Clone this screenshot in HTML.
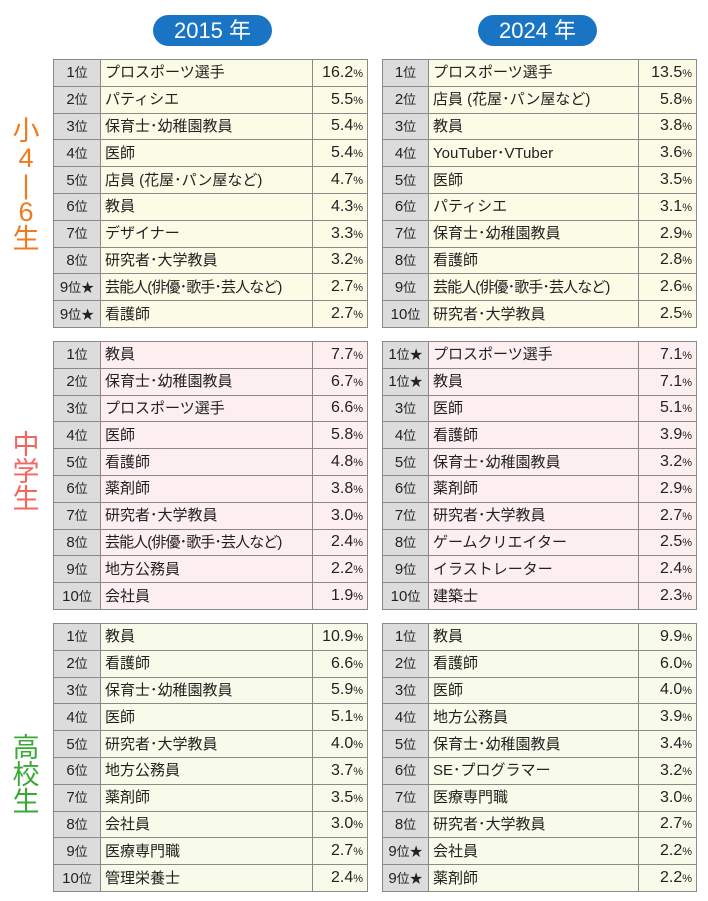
<!DOCTYPE html>
<html><head><meta charset="utf-8"><style>
body{margin:0;width:708px;height:901px;background:#fff;position:relative;font-family:"Liberation Sans","Noto Sans CJK JP",sans-serif;overflow:hidden}
.pill{position:absolute;top:15px;height:31px;width:119px;border-radius:16px;background:#1a74c4;color:#fff;font-size:22px;line-height:31px;text-align:center}
table{position:absolute;border-collapse:collapse;table-layout:fixed;font-size:15px;color:#222}
td{border:1px solid #8a8a8a;height:24.8px;line-height:20px;padding:1px 0 0 0;white-space:nowrap;overflow:hidden;vertical-align:middle}
td.r{background:#dcdcdc;text-align:center;font-size:15px}
td.r small{font-size:13px}
td.n{padding-left:4px}
td.n.t{letter-spacing:-0.9px}
td.p{text-align:right;padding-right:4px;font-size:16px}
td.p small{font-size:11px}
.s1 td.n,.s1 td.p{background:#fcfbe6}
.s2 td.n,.s2 td.p{background:#fdeef0}
.s3 td.n,.s3 td.p{background:#f9fbea}
.side{position:absolute;left:8px;width:36px;text-align:center;font-size:27px;line-height:27px}
</style></head><body>
<div class="pill" style="left:153px">2015 年</div>
<div class="pill" style="left:478px">2024 年</div>
<div class="side" style="top:118px;color:#f07a1c">小<br>4<br>|<br>6<br>生</div>
<div class="side" style="top:432px;color:#f2665f">中<br>学<br>生</div>
<div class="side" style="top:735px;color:#3aaa35">高<br>校<br>生</div>

<table class="s1" style="left:53px;top:59px;width:314px"><colgroup><col style="width:47px"><col style="width:212px"><col style="width:55px"></colgroup>
<tr><td class="r">1<small>位</small></td><td class="n">プロスポーツ選手</td><td class="p">16.2<small>%</small></td></tr>
<tr><td class="r">2<small>位</small></td><td class="n">パティシエ</td><td class="p">5.5<small>%</small></td></tr>
<tr><td class="r">3<small>位</small></td><td class="n">保育士･幼稚園教員</td><td class="p">5.4<small>%</small></td></tr>
<tr><td class="r">4<small>位</small></td><td class="n">医師</td><td class="p">5.4<small>%</small></td></tr>
<tr><td class="r">5<small>位</small></td><td class="n">店員 (花屋･パン屋など)</td><td class="p">4.7<small>%</small></td></tr>
<tr><td class="r">6<small>位</small></td><td class="n">教員</td><td class="p">4.3<small>%</small></td></tr>
<tr><td class="r">7<small>位</small></td><td class="n">デザイナー</td><td class="p">3.3<small>%</small></td></tr>
<tr><td class="r">8<small>位</small></td><td class="n">研究者･大学教員</td><td class="p">3.2<small>%</small></td></tr>
<tr><td class="r">9<small>位★</small></td><td class="n t">芸能人(俳優･歌手･芸人など)</td><td class="p">2.7<small>%</small></td></tr>
<tr><td class="r">9<small>位★</small></td><td class="n">看護師</td><td class="p">2.7<small>%</small></td></tr>
</table>
<table class="s1" style="left:382px;top:59px;width:314px"><colgroup><col style="width:46px"><col style="width:210px"><col style="width:58px"></colgroup>
<tr><td class="r">1<small>位</small></td><td class="n">プロスポーツ選手</td><td class="p">13.5<small>%</small></td></tr>
<tr><td class="r">2<small>位</small></td><td class="n">店員 (花屋･パン屋など)</td><td class="p">5.8<small>%</small></td></tr>
<tr><td class="r">3<small>位</small></td><td class="n">教員</td><td class="p">3.8<small>%</small></td></tr>
<tr><td class="r">4<small>位</small></td><td class="n">YouTuber･VTuber</td><td class="p">3.6<small>%</small></td></tr>
<tr><td class="r">5<small>位</small></td><td class="n">医師</td><td class="p">3.5<small>%</small></td></tr>
<tr><td class="r">6<small>位</small></td><td class="n">パティシエ</td><td class="p">3.1<small>%</small></td></tr>
<tr><td class="r">7<small>位</small></td><td class="n">保育士･幼稚園教員</td><td class="p">2.9<small>%</small></td></tr>
<tr><td class="r">8<small>位</small></td><td class="n">看護師</td><td class="p">2.8<small>%</small></td></tr>
<tr><td class="r">9<small>位</small></td><td class="n t">芸能人(俳優･歌手･芸人など)</td><td class="p">2.6<small>%</small></td></tr>
<tr><td class="r">10<small>位</small></td><td class="n">研究者･大学教員</td><td class="p">2.5<small>%</small></td></tr>
</table>

<table class="s2" style="left:53px;top:341px;width:314px"><colgroup><col style="width:47px"><col style="width:212px"><col style="width:55px"></colgroup>
<tr><td class="r">1<small>位</small></td><td class="n">教員</td><td class="p">7.7<small>%</small></td></tr>
<tr><td class="r">2<small>位</small></td><td class="n">保育士･幼稚園教員</td><td class="p">6.7<small>%</small></td></tr>
<tr><td class="r">3<small>位</small></td><td class="n">プロスポーツ選手</td><td class="p">6.6<small>%</small></td></tr>
<tr><td class="r">4<small>位</small></td><td class="n">医師</td><td class="p">5.8<small>%</small></td></tr>
<tr><td class="r">5<small>位</small></td><td class="n">看護師</td><td class="p">4.8<small>%</small></td></tr>
<tr><td class="r">6<small>位</small></td><td class="n">薬剤師</td><td class="p">3.8<small>%</small></td></tr>
<tr><td class="r">7<small>位</small></td><td class="n">研究者･大学教員</td><td class="p">3.0<small>%</small></td></tr>
<tr><td class="r">8<small>位</small></td><td class="n t">芸能人(俳優･歌手･芸人など)</td><td class="p">2.4<small>%</small></td></tr>
<tr><td class="r">9<small>位</small></td><td class="n">地方公務員</td><td class="p">2.2<small>%</small></td></tr>
<tr><td class="r">10<small>位</small></td><td class="n">会社員</td><td class="p">1.9<small>%</small></td></tr>
</table>
<table class="s2" style="left:382px;top:341px;width:314px"><colgroup><col style="width:46px"><col style="width:210px"><col style="width:58px"></colgroup>
<tr><td class="r">1<small>位★</small></td><td class="n">プロスポーツ選手</td><td class="p">7.1<small>%</small></td></tr>
<tr><td class="r">1<small>位★</small></td><td class="n">教員</td><td class="p">7.1<small>%</small></td></tr>
<tr><td class="r">3<small>位</small></td><td class="n">医師</td><td class="p">5.1<small>%</small></td></tr>
<tr><td class="r">4<small>位</small></td><td class="n">看護師</td><td class="p">3.9<small>%</small></td></tr>
<tr><td class="r">5<small>位</small></td><td class="n">保育士･幼稚園教員</td><td class="p">3.2<small>%</small></td></tr>
<tr><td class="r">6<small>位</small></td><td class="n">薬剤師</td><td class="p">2.9<small>%</small></td></tr>
<tr><td class="r">7<small>位</small></td><td class="n">研究者･大学教員</td><td class="p">2.7<small>%</small></td></tr>
<tr><td class="r">8<small>位</small></td><td class="n">ゲームクリエイター</td><td class="p">2.5<small>%</small></td></tr>
<tr><td class="r">9<small>位</small></td><td class="n">イラストレーター</td><td class="p">2.4<small>%</small></td></tr>
<tr><td class="r">10<small>位</small></td><td class="n">建築士</td><td class="p">2.3<small>%</small></td></tr>
</table>

<table class="s3" style="left:53px;top:623px;width:314px"><colgroup><col style="width:47px"><col style="width:212px"><col style="width:55px"></colgroup>
<tr><td class="r">1<small>位</small></td><td class="n">教員</td><td class="p">10.9<small>%</small></td></tr>
<tr><td class="r">2<small>位</small></td><td class="n">看護師</td><td class="p">6.6<small>%</small></td></tr>
<tr><td class="r">3<small>位</small></td><td class="n">保育士･幼稚園教員</td><td class="p">5.9<small>%</small></td></tr>
<tr><td class="r">4<small>位</small></td><td class="n">医師</td><td class="p">5.1<small>%</small></td></tr>
<tr><td class="r">5<small>位</small></td><td class="n">研究者･大学教員</td><td class="p">4.0<small>%</small></td></tr>
<tr><td class="r">6<small>位</small></td><td class="n">地方公務員</td><td class="p">3.7<small>%</small></td></tr>
<tr><td class="r">7<small>位</small></td><td class="n">薬剤師</td><td class="p">3.5<small>%</small></td></tr>
<tr><td class="r">8<small>位</small></td><td class="n">会社員</td><td class="p">3.0<small>%</small></td></tr>
<tr><td class="r">9<small>位</small></td><td class="n">医療専門職</td><td class="p">2.7<small>%</small></td></tr>
<tr><td class="r">10<small>位</small></td><td class="n">管理栄養士</td><td class="p">2.4<small>%</small></td></tr>
</table>
<table class="s3" style="left:382px;top:623px;width:314px"><colgroup><col style="width:46px"><col style="width:210px"><col style="width:58px"></colgroup>
<tr><td class="r">1<small>位</small></td><td class="n">教員</td><td class="p">9.9<small>%</small></td></tr>
<tr><td class="r">2<small>位</small></td><td class="n">看護師</td><td class="p">6.0<small>%</small></td></tr>
<tr><td class="r">3<small>位</small></td><td class="n">医師</td><td class="p">4.0<small>%</small></td></tr>
<tr><td class="r">4<small>位</small></td><td class="n">地方公務員</td><td class="p">3.9<small>%</small></td></tr>
<tr><td class="r">5<small>位</small></td><td class="n">保育士･幼稚園教員</td><td class="p">3.4<small>%</small></td></tr>
<tr><td class="r">6<small>位</small></td><td class="n">SE･プログラマー</td><td class="p">3.2<small>%</small></td></tr>
<tr><td class="r">7<small>位</small></td><td class="n">医療専門職</td><td class="p">3.0<small>%</small></td></tr>
<tr><td class="r">8<small>位</small></td><td class="n">研究者･大学教員</td><td class="p">2.7<small>%</small></td></tr>
<tr><td class="r">9<small>位★</small></td><td class="n">会社員</td><td class="p">2.2<small>%</small></td></tr>
<tr><td class="r">9<small>位★</small></td><td class="n">薬剤師</td><td class="p">2.2<small>%</small></td></tr>
</table>
</body></html>
